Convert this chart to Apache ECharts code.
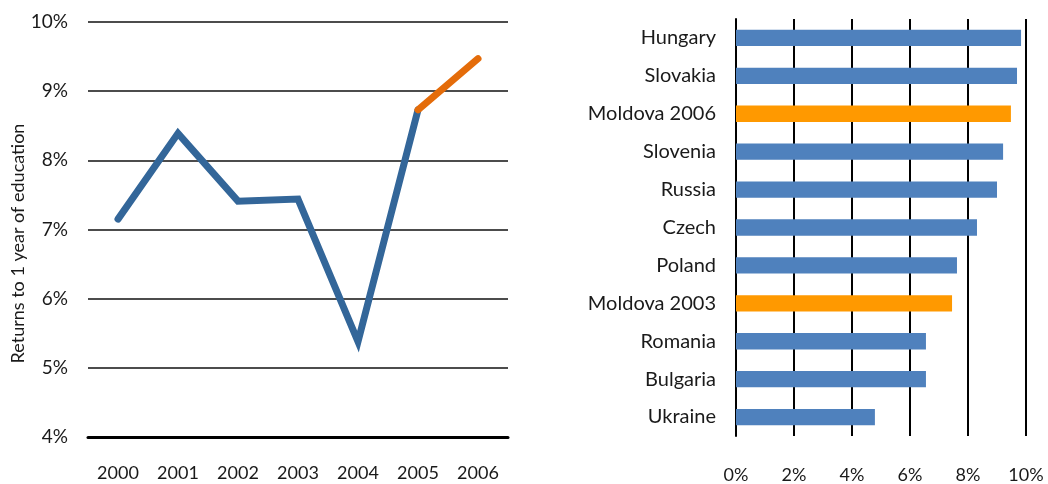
<!DOCTYPE html>
<html>
<head>
<meta charset="utf-8">
<script src="https://cdn.jsdelivr.net/npm/echarts@6/dist/echarts.min.js"></script>
<style>
  html, body { margin: 0; padding: 0; background: #fff; }
  #main { width: 1048px; height: 484px; }
</style>
</head>
<body>
<div id="main"></div>
<script>
// left chart: returns to schooling in Moldova by year
var years = ['2000', '2001', '2002', '2003', '2004', '2005', '2006'];
var returns = [7.15, 8.39, 7.41, 7.44, 5.38, 8.73, 9.47];
var yTicks = [4, 5, 6, 7, 8, 9, 10];

// right chart: country comparison
var countries = ['Hungary', 'Slovakia', 'Moldova 2006', 'Slovenia', 'Russia', 'Czech',
  'Poland', 'Moldova 2003', 'Romania', 'Bulgaria', 'Ukraine'];
var countryReturns = [9.83, 9.69, 9.48, 9.21, 9.0, 8.31, 7.62, 7.45, 6.55, 6.55, 4.79];
var xTicks = [0, 2, 4, 6, 8, 10];

var FONT = 'Lato';

// blue part up to 2005, orange for the last step
var bluePart = returns.map(function (v, i) { return i <= 5 ? v : '-'; });
var orangePart = returns.map(function (v, i) { return i >= 5 ? v : '-'; });

var barData = countryReturns.map(function (v, i) {
  var isMoldova = countries[i].indexOf('Moldova') === 0;
  return { value: v, itemStyle: { color: isMoldova ? '#FF9900' : '#4F81BD' } };
});

var myChart = echarts.init(document.getElementById('main'));

var option = {
  animation: false,
  textStyle: { fontFamily: FONT },
  grid: [
    { left: 88, right: 540, top: 22, bottom: 47 },
    { left: 736, right: 22, top: 19, bottom: 46 }
  ],
  xAxis: [
    {
      gridIndex: 0,
      type: 'category',
      data: years,
      axisLine: { show: true, lineStyle: { color: '#000', width: 3 } },
      axisTick: { show: false },
      axisLabel: { color: '#1a1a1a', fontSize: 18, fontFamily: FONT, margin: 27 }
    },
    {
      gridIndex: 1,
      type: 'value',
      min: 0,
      max: 10,
      interval: 2,
      axisLine: { show: false },
      axisTick: { show: false },
      splitLine: { show: true, lineStyle: { color: '#000', width: 2 } },
      axisLabel: {
        color: '#1a1a1a', fontSize: 18, fontFamily: FONT, margin: 30,
        formatter: function (v) { return xTicks.indexOf(v) >= 0 ? v + '%' : ''; }
      }
    }
  ],
  yAxis: [
    {
      gridIndex: 0,
      type: 'value',
      min: 4,
      max: 10,
      interval: 1,
      name: 'Returns to 1 year of education',
      nameLocation: 'middle',
      nameGap: 60,
      nameTextStyle: { color: '#1a1a1a', fontSize: 18, fontFamily: FONT, padding: [0, 28, 0, 0] },
      axisLine: { show: false },
      axisTick: { show: false },
      splitLine: { show: true, lineStyle: { color: '#111', width: 1.5 } },
      axisLabel: {
        color: '#1a1a1a', fontSize: 19, fontFamily: FONT, margin: 20,
        formatter: function (v) { return yTicks.indexOf(v) >= 0 ? v + '%' : ''; }
      }
    },
    {
      gridIndex: 1,
      type: 'category',
      inverse: true,
      data: countries,
      axisLine: { show: true, lineStyle: { color: '#000', width: 2 } },
      axisTick: { show: false },
      axisLabel: { color: '#1a1a1a', fontSize: 20, fontFamily: FONT, margin: 20 }
    }
  ],
  series: [
    {
      type: 'line',
      xAxisIndex: 0,
      yAxisIndex: 0,
      data: bluePart,
      symbol: 'none',
      lineStyle: { color: '#336699', width: 7, cap: 'round', join: 'miter' },
      z: 3
    },
    {
      type: 'line',
      xAxisIndex: 0,
      yAxisIndex: 0,
      data: orangePart,
      symbol: 'none',
      lineStyle: { color: '#E46C0A', width: 7, cap: 'round', join: 'miter' },
      z: 4
    },
    {
      type: 'bar',
      xAxisIndex: 1,
      yAxisIndex: 1,
      data: barData,
      barWidth: '43%'
    }
  ]
};

myChart.setOption(option);
window.onresize = function () {
  myChart.resize();
};
</script>
</body>
</html>
